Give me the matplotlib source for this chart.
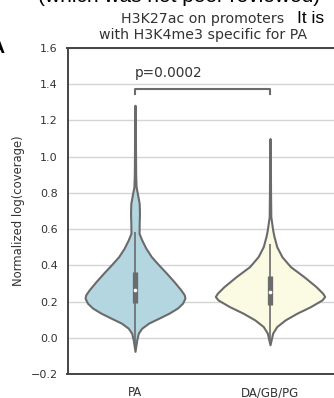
import matplotlib
matplotlib.use("Agg")
import matplotlib.pyplot as plt
import numpy as np

# ---- data ----
categories = ["PA", "DA/GB/PG"]
colors = ["#b4d6e1", "#fbfbe4"]

# violin density profiles: value (y) and half-width (in category units)
pa_y = [-0.075, -0.011, 0.026, 0.053, 0.081, 0.108, 0.136, 0.164, 0.191, 0.219,
        0.237, 0.264, 0.310, 0.356, 0.402, 0.448, 0.494, 0.540, 0.577, 0.632,
        0.687, 0.742, 0.779, 0.834, 0.90, 1.00, 1.15, 1.284]
pa_w = [0.0, 0.013, 0.025, 0.05, 0.101, 0.176, 0.252, 0.314, 0.352, 0.37,
        0.365, 0.34, 0.289, 0.234, 0.176, 0.121, 0.081, 0.05, 0.03, 0.031,
        0.033, 0.031, 0.022, 0.008, 0.005, 0.004, 0.003, 0.0]

da_y = [-0.039, 0.026, 0.062, 0.099, 0.136, 0.172, 0.209, 0.228, 0.246, 0.283,
        0.338, 0.393, 0.448, 0.503, 0.558, 0.595, 0.632, 0.668, 0.80, 0.95, 1.10]
da_w = [0.0, 0.02, 0.05, 0.113, 0.20, 0.30, 0.385, 0.405, 0.39, 0.34,
        0.25, 0.151, 0.088, 0.05, 0.03, 0.02, 0.013, 0.006, 0.004, 0.003, 0.0]

# box statistics: whisker low, q1, median, q3, whisker high
pa_box = [-0.07, 0.191, 0.264, 0.365, 0.586]
da_box = [-0.035, 0.182, 0.255, 0.340, 0.518]

pvalue_text = "p=0.0002"
bracket_y = 1.376
bracket_drop = 0.028

profiles = [(pa_y, pa_w), (da_y, da_w)]
boxes = [pa_box, da_box]

# ---- figure ----
W, H = 334, 398
fig = plt.figure(figsize=(W / 100, H / 100), dpi=100)
ax = fig.add_axes([67.5 / W, 24 / H, 270 / W, 326 / H])

gray = "#6b6b6b"
for i, ((yy, ww), box, c) in enumerate(zip(profiles, boxes, colors)):
    yy = np.asarray(yy)
    ww = np.asarray(ww)
    ax.fill_betweenx(yy, i - ww, i + ww, facecolor=c, edgecolor=gray,
                     linewidth=1.5, zorder=2)
    lo, q1, med, q3, hi = box
    ax.plot([i, i], [lo, hi], color=gray, linewidth=1.2, zorder=3,
            solid_capstyle="butt")
    ax.plot([i, i], [q1, q3], color=gray, linewidth=3.8, zorder=3,
            solid_capstyle="butt")
    ax.scatter([i], [med], s=7, color="white", zorder=4, linewidths=0)

# significance bracket
ax.plot([0, 0, 1, 1], [bracket_y - bracket_drop, bracket_y, bracket_y,
                        bracket_y - bracket_drop],
        color=gray, linewidth=1.5, zorder=3)
ax.text(0, bracket_y + 0.045, pvalue_text, ha="left", va="bottom",
        fontsize=9.8, color="#333333")

ax.set_xlim(-0.5, 1.5)
ax.set_ylim(-0.2, 1.6)
ticks = np.arange(-0.2, 1.61, 0.2)
ax.set_yticks(ticks)
ax.set_yticklabels([f"{v:.1f}".replace("-", "\u2212") for v in ticks])
ax.set_xticks([0, 1])
ax.set_xticklabels(categories)
ax.tick_params(axis="both", length=0, labelsize=8, labelcolor="#333333")
ax.tick_params(axis="x", labelsize=8.5, pad=9)
ax.tick_params(axis="y", pad=7)
ax.yaxis.grid(True, color="#d4d4d4", linewidth=1.0)
ax.set_axisbelow(True)
for s in ["left", "bottom", "top"]:
    ax.spines[s].set_color("#444444")
    ax.spines[s].set_linewidth(1.4)
ax.spines["right"].set_visible(False)

ax.set_ylabel("Normalized log(coverage)", fontsize=8.4, color="#333333",
              labelpad=4)
ax.set_title("H3K27ac on promoters\nwith H3K4me3 specific for PA",
             fontsize=10.2, color="#333333", pad=6.5, linespacing=1.15)

# surrounding text from the cropped page
fig.text(38 / W, 1 - 2 / H, "(which was not peer reviewed)", ha="left",
         va="baseline", fontsize=15, family="Liberation Sans", color="black")
fig.text(297 / W, 1 - 23 / H, "It is", ha="left", va="baseline",
         fontsize=12.5, family="Liberation Sans", color="black")
fig.text(5 / W, 1 - 53 / H, "A", ha="right", va="baseline", fontsize=14,
         fontweight="bold", family="Liberation Sans", color="black")

fig.savefig("out.png", dpi=100)
